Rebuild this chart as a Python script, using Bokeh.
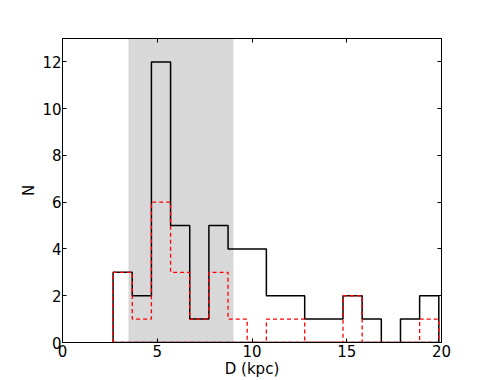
from bokeh.plotting import figure
from bokeh.models import Range1d, BoxAnnotation, LinearAxis, FixedTicker
from bokeh.embed import file_html
from bokeh.resources import INLINE

# ---- data ----
bin_start = 2.67
bin_width = 1.011
counts_all = [3, 2, 12, 5, 1, 5, 4, 4, 2, 2, 1, 1, 2, 1, 0, 1, 2]
counts_sub = [3, 1, 6, 3, 1, 3, 1, 0, 1, 1, 0, 0, 2, 0, 0, 0, 1]
span_lo, span_hi = 3.5, 9.0
x_ticks = [0, 5, 10, 15, 20]
y_ticks = [0, 2, 4, 6, 8, 10, 12]

edges = [bin_start + i * bin_width for i in range(len(counts_all) + 1)]


def outline(counts):
    xs, ys = [edges[0]], [0]
    for i, c in enumerate(counts):
        xs += [edges[i], edges[i + 1]]
        ys += [c, c]
    xs += [edges[-1], edges[0]]
    ys += [0, 0]
    return xs, ys


FONT = "DejaVu Sans"

p = figure(width=491, height=380, x_range=Range1d(0, 20), y_range=Range1d(0, 13),
           output_backend="svg", toolbar_location=None,
           min_border_left=62, min_border_right=50, min_border_top=38, min_border_bottom=38)
p.grid.visible = False
p.outline_line_color = "black"
p.outline_line_width = 1

p.add_layout(BoxAnnotation(left=span_lo, right=span_hi, fill_color="#d8d8d8", fill_alpha=1.0,
                           line_color="#b8b8b8", line_width=1, level="underlay"))

xa, ya = outline(counts_all)
p.line(xa, ya, line_color="black", line_width=1.5)
xs, ys = outline(counts_sub)
p.line(xs, ys, line_color="red", line_width=1.3, line_dash="4 3")

for ax in (p.xaxis[0], p.yaxis[0]):
    ax.major_tick_in = 4
    ax.major_tick_out = 0
    ax.minor_tick_line_color = None
    ax.axis_line_color = "black"
    ax.major_tick_line_color = "black"
    ax.major_label_text_font = FONT
    ax.major_label_text_font_size = "15px"
    ax.major_label_text_color = "black"
    ax.axis_label_text_font = FONT
    ax.axis_label_text_font_size = "15px"
    ax.axis_label_text_font_style = "normal"
    ax.axis_label_text_color = "black"

p.xaxis.ticker = FixedTicker(ticks=x_ticks)
p.yaxis.ticker = FixedTicker(ticks=y_ticks)
p.xaxis.axis_label = "D (kpc)"
p.yaxis.axis_label = "N"
p.xaxis.major_label_standoff = 2
p.xaxis.axis_label_standoff = 0
p.yaxis.major_label_standoff = 1
p.yaxis.axis_label_standoff = 1

top = LinearAxis(ticker=FixedTicker(ticks=x_ticks), major_label_text_color=None,
                 major_label_text_font_size="1px", major_tick_in=4, major_tick_out=0,
                 minor_tick_line_color=None, axis_line_color="black")
right = LinearAxis(ticker=FixedTicker(ticks=y_ticks), major_label_text_color=None,
                   major_label_text_font_size="1px", major_tick_in=4, major_tick_out=0,
                   minor_tick_line_color=None, axis_line_color="black")
p.add_layout(top, "above")
p.add_layout(right, "right")

open("out.html", "w").write(file_html(p, INLINE))
